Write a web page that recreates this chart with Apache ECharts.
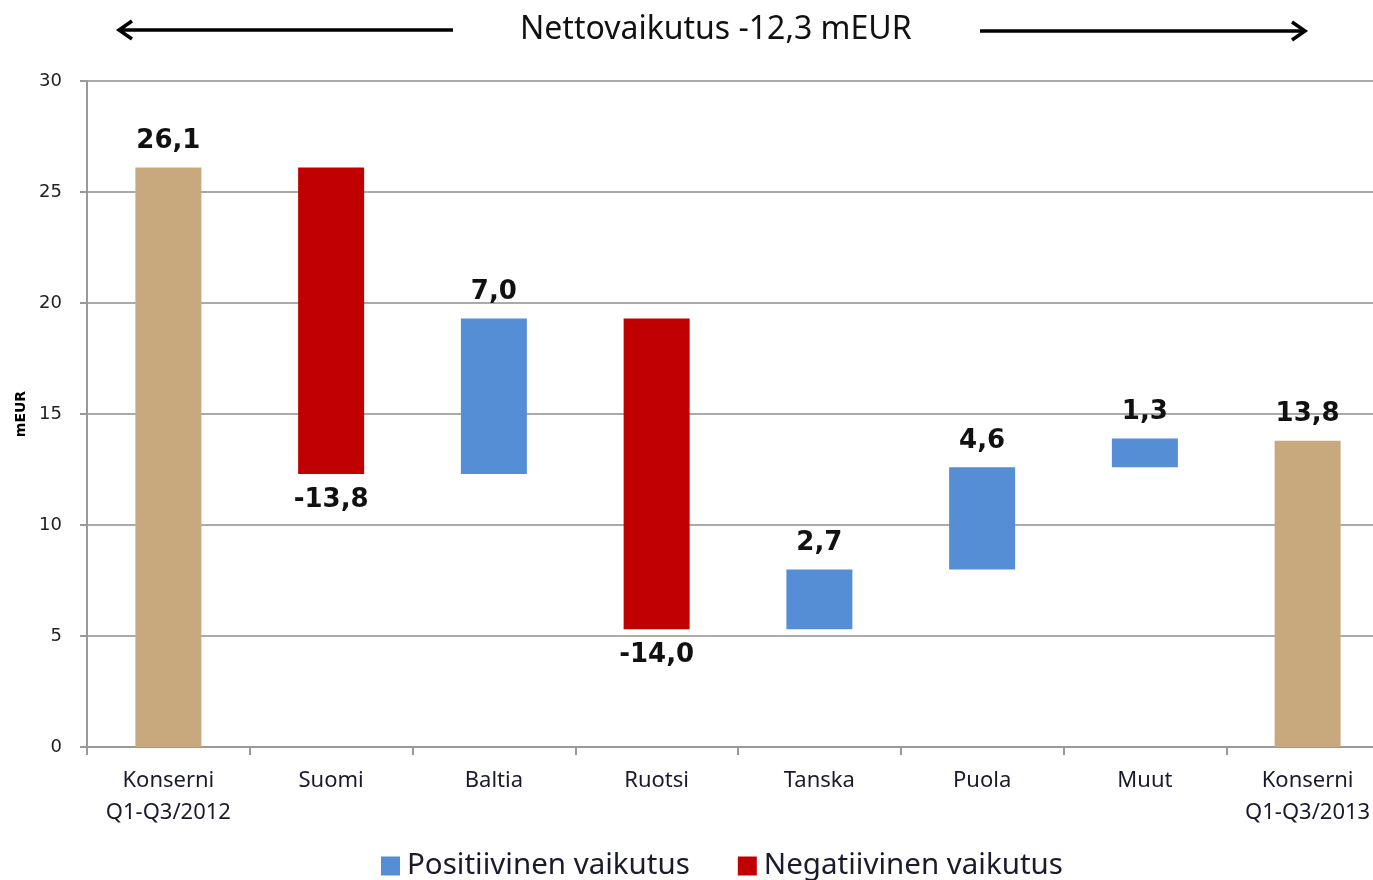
<!DOCTYPE html>
<html>
<head>
<meta charset="utf-8">
<script src="https://cdn.jsdelivr.net/npm/echarts@6/dist/echarts.min.js"></script>
<style>
  html, body { margin: 0; padding: 0; background: #fff; overflow: hidden; }
  #chart { width: 1389px; height: 880px; }
</style>
</head>
<body>
<div id="chart"></div>
<script>
(function () {
  "use strict";

  // Data
  const categories = ['Konserni\nQ1-Q3/2012', 'Suomi', 'Baltia', 'Ruotsi', 'Tanska', 'Puola', 'Muut', 'Konserni\nQ1-Q3/2013'];
  const startValue = 26.1;
  const endValue = 13.8;
  const deltas = [-13.8, 7.0, -14.0, 2.7, 4.6, 1.3];
  const yTicks = [0, 5, 10, 15, 20, 25, 30];
  const titleText = 'Nettovaikutus -12,3 mEUR';

  const FONT = '"Noto Sans", "Open Sans", sans-serif';
  const fmt = v => v.toFixed(1).replace('.', ',');

  // Build waterfall series from the deltas
  const base = ['-'];
  const pos = ['-'];
  const neg = ['-'];
  const totals = [startValue];
  let running = startValue;
  deltas.forEach(d => {
    if (d >= 0) {
      base.push(running);
      pos.push(d);
      neg.push('-');
      running += d;
    } else {
      running += d;
      base.push(running);
      pos.push('-');
      neg.push(-d);
    }
    totals.push('-');
  });
  base.push('-');
  pos.push('-');
  neg.push('-');
  totals.push(endValue);

  const labelStyle = {
    show: true,
    fontSize: 26,
    fontWeight: 'bold',
    fontFamily: '"DejaVu Sans", sans-serif',
    color: '#111'
  };

  const chart = echarts.init(document.getElementById('chart'));
  chart.setOption({
    animation: false,
    backgroundColor: '#fff',
    grid: { left: 87, right: 0, top: 81, bottom: 133 },
    legend: {
      data: ['Positiivinen vaikutus', 'Negatiivinen vaikutus'],
      left: 376,
      top: 846,
      icon: 'rect',
      itemWidth: 19,
      itemHeight: 19,
      itemGap: 48,
      textStyle: { fontSize: 29.5, fontFamily: FONT, color: '#1a1a2e', padding: [0, 0, 0, 2] }
    },
    xAxis: {
      type: 'category',
      data: categories,
      axisLine: { lineStyle: { color: '#999', width: 2 } },
      axisTick: { show: true, length: 8, lineStyle: { color: '#999', width: 2 } },
      axisLabel: {
        interval: 0,
        margin: 18,
        fontSize: 22,
        lineHeight: 32,
        fontFamily: FONT,
        color: '#1a1a2e'
      }
    },
    yAxis: {
      type: 'value',
      min: yTicks[0],
      max: yTicks[yTicks.length - 1],
      interval: 5,
      name: 'mEUR',
      nameLocation: 'middle',
      nameRotate: 90,
      nameGap: 58,
      nameTextStyle: { fontSize: 14, fontWeight: 'bold', fontFamily: '"DejaVu Sans", sans-serif', color: '#000' },
      axisLine: { show: true, lineStyle: { color: '#999', width: 2 } },
      axisTick: { show: true, length: 7, lineStyle: { color: '#999', width: 2 } },
      splitLine: { lineStyle: { color: '#aaa', width: 2 } },
      axisLabel: {
        margin: 25,
        fontSize: 18,
        fontFamily: '"DejaVu Sans", sans-serif',
        color: '#222'
      }
    },
    series: [
      {
        name: 'base',
        type: 'bar',
        stack: 'wf',
        barWidth: 66,
        itemStyle: { color: 'transparent' },
        emphasis: { disabled: true },
        data: base
      },
      {
        name: 'Positiivinen vaikutus',
        type: 'bar',
        stack: 'wf',
        barWidth: 66,
        itemStyle: { color: '#558ED5' },
        label: Object.assign({}, labelStyle, { position: 'top', distance: 13, formatter: p => fmt(p.value) }),
        data: pos
      },
      {
        name: 'Negatiivinen vaikutus',
        type: 'bar',
        stack: 'wf',
        barWidth: 66,
        itemStyle: { color: '#C00000' },
        label: Object.assign({}, labelStyle, { position: 'bottom', distance: 13, formatter: p => '-' + fmt(p.value) }),
        data: neg
      },
      {
        name: 'Konserni',
        type: 'bar',
        stack: 'wf',
        barWidth: 66,
        itemStyle: { color: '#C8A97E' },
        label: Object.assign({}, labelStyle, { position: 'top', distance: 13, formatter: p => fmt(p.value) }),
        data: totals
      }
    ],
    graphic: [
      {
        type: 'text',
        left: 520,
        top: 14,
        style: {
          text: titleText,
          font: '32px ' + FONT,
          fill: '#111'
        }
      },
      // left arrow
      { type: 'line', shape: { x1: 453, y1: 30, x2: 119, y2: 30 }, style: { stroke: '#000', lineWidth: 3.5 } },
      { type: 'polyline', shape: { points: [[132, 21], [119, 30], [132, 39]] }, style: { stroke: '#000', lineWidth: 3.5, fill: null } },
      // right arrow
      { type: 'line', shape: { x1: 980, y1: 31, x2: 1305, y2: 31 }, style: { stroke: '#000', lineWidth: 3.5 } },
      { type: 'polyline', shape: { points: [[1292, 22], [1305, 31], [1292, 40]] }, style: { stroke: '#000', lineWidth: 3.5, fill: null } }
    ]
  });
})();
</script>
</body>
</html>
